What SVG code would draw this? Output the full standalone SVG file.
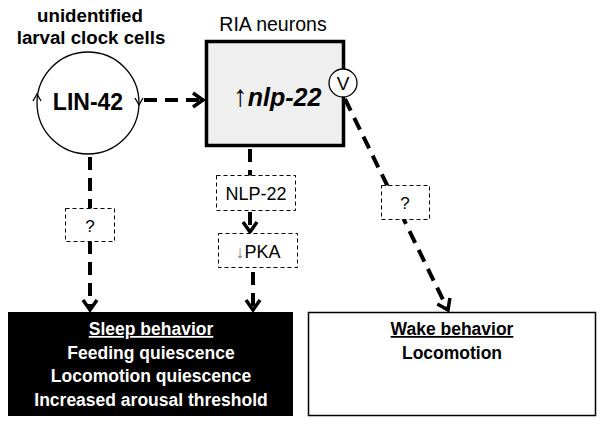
<svg xmlns="http://www.w3.org/2000/svg" width="601" height="424" viewBox="0 0 601 424">
<style>
text{font-family:"Liberation Sans",Arial,sans-serif;fill:#000}
.b{font-weight:bold}
.conn{fill:none;stroke:#000;stroke-width:4;stroke-dasharray:13 8}
.dbox{fill:#fff;stroke:#000;stroke-width:1;stroke-dasharray:4 3}
.w{fill:#fff}
</style>
<defs>
<marker id="chev" markerUnits="userSpaceOnUse" markerWidth="20" markerHeight="20" viewBox="-12 -10 14 20" refX="0" refY="0" orient="auto">
<path d="M-10,-7 L0,0 L-10,7" fill="none" stroke="#000" stroke-width="3.5" stroke-dasharray="none"/>
</marker>
</defs>
<g id="connectors">
<line class="conn" x1="144" y1="100" x2="203" y2="100" marker-end="url(#chev)"/>
<line class="conn" x1="90" y1="157" x2="90" y2="310" marker-end="url(#chev)"/>
<line class="conn" x1="250" y1="149" x2="250" y2="176"/>
<line class="conn" x1="250" y1="212" x2="250" y2="232" marker-end="url(#chev)"/>
<line class="conn" x1="253" y1="272" x2="253" y2="310" marker-end="url(#chev)"/>
<line class="conn" x1="345" y1="99" x2="448" y2="310" marker-end="url(#chev)"/>
</g>
<g id="clock">
<text class="b" x="90" y="22" font-size="18.7" text-anchor="middle">unidentified</text>
<text class="b" x="91" y="44" font-size="18.7" text-anchor="middle">larval clock cells</text>
<circle cx="88" cy="103" r="51" fill="#fff" stroke="#000" stroke-width="1.3"/>
<path d="M33,101 L37,94 L41,101" fill="none" stroke="#000" stroke-width="1.3"/>
<path d="M135,98 L139,105 L143,98" fill="none" stroke="#000" stroke-width="1.3"/>
<text class="b" x="88" y="110" font-size="23" text-anchor="middle">LIN-42</text>
</g>
<g id="ria">
<text x="273" y="31" font-size="19.5" text-anchor="middle">RIA neurons</text>
<rect x="206.5" y="41.5" width="137" height="104" fill="#efefef" stroke="#000" stroke-width="3.5"/>
<text x="277" y="106" font-size="25" text-anchor="middle"><tspan font-size="30">↑</tspan><tspan class="b" font-style="italic">nlp-22</tspan></text>
<circle cx="343" cy="83" r="14" fill="#fff" stroke="#000" stroke-width="1.3"/>
<text x="343" y="90" font-size="19" text-anchor="middle">V</text>
</g>
<g id="q-left">
<rect class="dbox" x="65.5" y="208.5" width="49" height="33"/>
<text x="90" y="232" font-size="17" text-anchor="middle">?</text>
</g>
<g id="nlp22">
<rect class="dbox" x="216.5" y="175.5" width="79" height="35"/>
<text x="256" y="200" font-size="18" text-anchor="middle">NLP-22</text>
</g>
<g id="pka">
<rect class="dbox" x="218.5" y="233.5" width="79" height="34"/>
<text x="258" y="258" font-size="18" text-anchor="middle"><tspan fill="#888" font-size="18">↓</tspan>PKA</text>
</g>
<g id="q-right">
<rect class="dbox" x="381.5" y="185.5" width="48" height="34"/>
<text x="405" y="209" font-size="17" text-anchor="middle">?</text>
</g>
<g id="sleep">
<rect x="8" y="312" width="285" height="104" fill="#000"/>
<text class="b w" x="151" y="335" font-size="17.5" text-anchor="middle" text-decoration="underline">Sleep behavior</text>
<text class="b w" x="151" y="359" font-size="17.5" text-anchor="middle">Feeding quiescence</text>
<text class="b w" x="151" y="382" font-size="17.5" text-anchor="middle">Locomotion quiescence</text>
<text class="b w" x="151" y="406" font-size="17.5" text-anchor="middle">Increased arousal threshold</text>
</g>
<g id="wake">
<rect x="308.5" y="312.5" width="287" height="103" fill="#fff" stroke="#000" stroke-width="1.5"/>
<text class="b" x="452" y="335" font-size="17.5" text-anchor="middle" text-decoration="underline">Wake behavior</text>
<text class="b" x="452" y="359" font-size="17.5" text-anchor="middle">Locomotion</text>
</g>
</svg>
